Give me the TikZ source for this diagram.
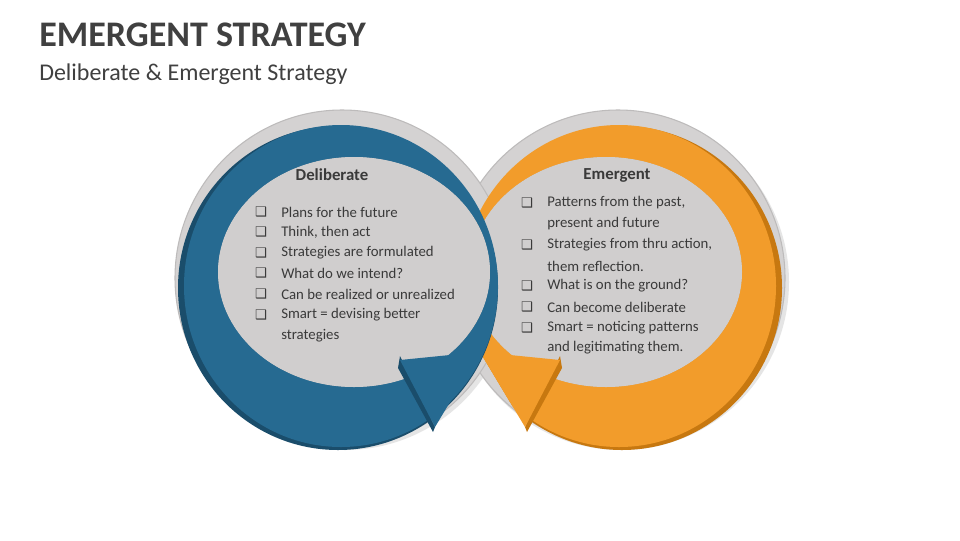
\documentclass[tikz,border=0pt]{standalone}
\usepackage{fontspec}
\setmainfont{Carlito}
\newfontfamily\symf{DejaVu Sans}
\definecolor{ttl}{HTML}{404040}
\definecolor{txt}{HTML}{3A3A3A}
\definecolor{ring}{HTML}{D4D2D2}
\definecolor{ringe}{HTML}{BDBBBB}
\definecolor{disc}{HTML}{D0CECE}
\definecolor{blu}{HTML}{266A91}
\definecolor{bluD}{HTML}{1A4D6B}
\definecolor{org}{HTML}{F29C2B}
\definecolor{orgD}{HTML}{C77810}
\tikzset{
  lbl/.style={anchor=west,inner sep=0pt,font=\fontsize{11.1pt}{13pt}\selectfont,text=txt},
  hdr/.style={inner sep=0pt,font=\bfseries\fontsize{12.6pt}{14pt}\selectfont,text=txt},
  bx/.style={anchor=center,inner sep=0pt,font=\symf\fontsize{10pt}{10pt}\selectfont,text=txt},
}
\begin{document}
\begin{tikzpicture}[x=0.75pt,y=-0.75pt]
\useasboundingbox (0,0) rectangle (960,540);
\fill[white] (0,0) rectangle (960,540);
\node[anchor=west,inner sep=0pt,font=\bfseries\fontsize{27pt}{31pt}\selectfont,text=ttl] (title) at (39,35) {EMERGENT STRATEGY};
\node[anchor=west,inner sep=0pt,font=\fontsize{18pt}{21pt}\selectfont,text=ttl] (sub) at (39,74) {Deliberate \& Emergent Strategy};
% grey rings
\fill[gray!40,opacity=0.5] (345,282) ellipse (168 and 168);
\fill[gray!40,opacity=0.5] (621,282) ellipse (168 and 168);
\filldraw[fill=ring,draw=ringe,line width=0.8pt] (618,278) ellipse (167 and 168);
\filldraw[fill=ring,draw=ringe,line width=0.8pt] (342,278) ellipse (167 and 168);
% orange band
\begin{scope}
\clip (0,0) rectangle (960,540) (480,352) -- (525,427) -- (525,600) -- (260,600) -- (260,352) -- cycle;
\fill[orgD,even odd rule] (622,288) ellipse (160 and 162) (606,272) ellipse (136 and 115);
\fill[org,even odd rule] (619,286) ellipse (157 and 161) (606,272) ellipse (136 and 115);
\end{scope}
\fill[disc] (606,272) ellipse (136 and 115);
\fill[orgD] (560,356) -- (562,368) -- (527,432) -- (525,427) -- cycle;
\fill[org] (480,352) -- (560,360) -- (525,427) -- cycle;
% blue band
\begin{scope}
\clip (0,0) rectangle (960,540) (480,352) -- (435,427) -- (435,600) -- (700,600) -- (700,352) -- cycle;
\fill[bluD,even odd rule] (338,288) ellipse (160 and 162) (354,272) ellipse (136 and 115);
\fill[blu,even odd rule] (341,286) ellipse (157 and 161) (354,272) ellipse (136 and 115);
\end{scope}
\fill[disc] (354,272) ellipse (136 and 115);
\fill[bluD] (400,356) -- (398,368) -- (433,432) -- (435,427) -- cycle;
\fill[blu] (480,352) -- (400,360) -- (435,427) -- cycle;
% left text
\node[hdr] (dh) at (332,175) {Deliberate};
\foreach \y/\t [count=\i] in {212/Plans for the future,232/{Think, then act},253/Strategies are formulated,273/What do we intend?,294/Can be realized or unrealized,315/Smart = devising better}{
  \node[bx] (lb\i) at (261,\y) {❑};
  \node[lbl] (lt\i) at (281,\y) {\t};
}
\node[lbl] (lt7) at (281,336) {strategies};
% right text
\node[hdr] (eh) at (617,175) {Emergent};
\node[bx] (rb1) at (527,203) {❑}; \node[lbl] (rt1) at (547,203) {Patterns from the past,};
\node[lbl] (rt2) at (547,224) {present and future};
\node[bx] (rb3) at (527,245) {❑}; \node[lbl] (rt3) at (547,245) {Strategies from thru action,};
\node[lbl] (rt4) at (547,266) {them reflection.};
\node[bx] (rb5) at (527,286) {❑}; \node[lbl] (rt5) at (547,286) {What is on the ground?};
\node[bx] (rb6) at (527,307) {❑}; \node[lbl] (rt6) at (547,307) {Can become deliberate};
\node[bx] (rb7) at (527,328) {❑}; \node[lbl] (rt7) at (547,328) {Smart = noticing patterns};
\node[lbl] (rt8) at (547,348) {and legitimating them.};
\end{tikzpicture}
\end{document}
